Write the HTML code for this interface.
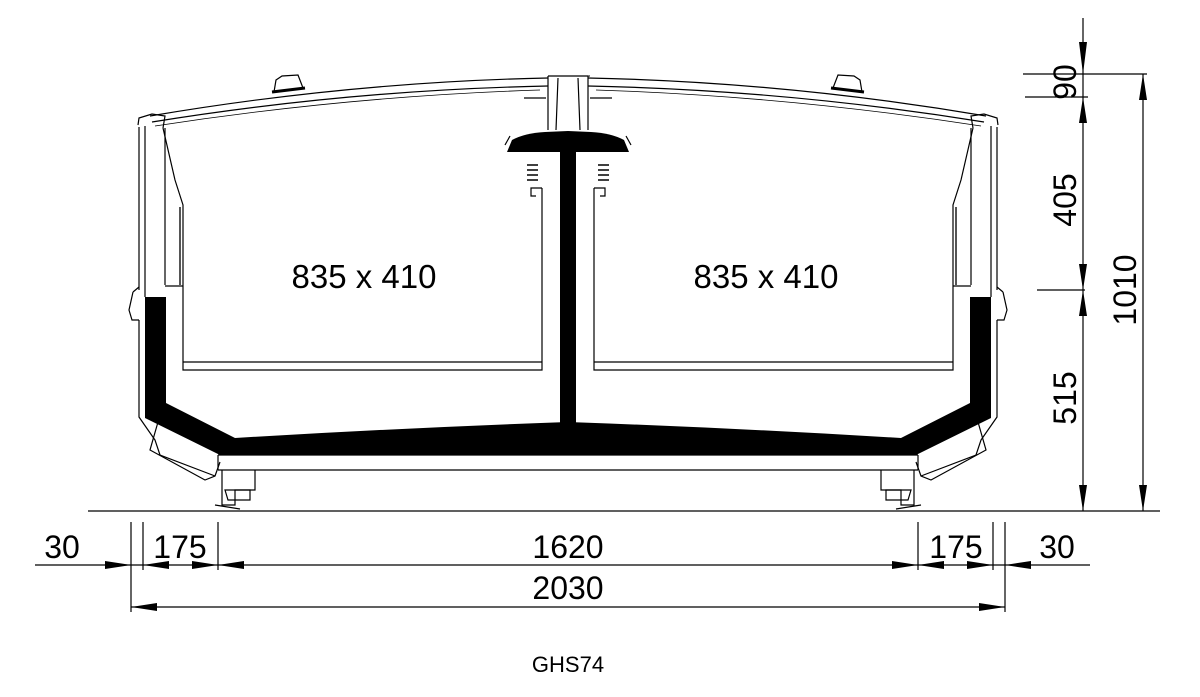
<!DOCTYPE html>
<html><head><meta charset="utf-8"><style>
html,body{margin:0;padding:0;background:#fff;}
svg{display:block;}
text{font-family:"Liberation Sans",Arial,sans-serif;fill:#000;}
</style></head><body>
<svg width="1200" height="697" viewBox="0 0 1200 697" xmlns="http://www.w3.org/2000/svg">
<defs>
<g id="half" fill="none" stroke="#000" stroke-width="1.2">
  <path d="M150 116 Q350 82 548 78" />
  <path d="M152 122 Q350 90 548 86" />
  <path d="M155 126 Q350 96 540 90" stroke-width="0.8"/>
  <path d="M274 92 L276 80 L282 76 L298 75 L303 88" />
  <path d="M272 92 L305 88" stroke-width="3"/>
  <path d="M138 125 L139 118 L152 114 L165 116 L163 128" />
  <path d="M139 127 L139 290 M139 320 L139 417 L155 440 L160 455 L215 476" />
  <path d="M133 292 L139 287 M139 320 L132 320 L129 310 L133 292" />
  <path d="M145 126 L145 297 M165 128 L165 285" />
  <path d="M163 128 Q168 150 175 180 L183 205 L183 286" />
  <path d="M180 207 L180 285" stroke-width="2" stroke="#555"/>
  <path d="M165 286 L183 286" />
  <path d="M183 286 L183 370 L542 370 L542 188" />
  <path d="M183 362 L542 362" />
  <path d="M542 188 L531 188 L531 196 L536 196" />
  <path d="M527 165 L538 165 M527 170 L538 170 M527 175 L538 175 M527 180 L538 180" stroke-width="1.5"/>
  <path d="M160 415 L150 450 L205 480 L215 476 L220 462" />
  <path d="M218 455 L568 455 M218 470 L568 470 M218 455 L218 470" />
  <path d="M222 470 L222 505 L235 505 L235 490 L255 490 L255 470" />
  <path d="M225 490 L250 490 L250 500 L228 500 Z" />
  <path d="M215 505 L240 509" />
  <path d="M548 76 L548 130 M558 78 L556 130 M568 76 L548 76 M524 98 L546 98" />
  <path d="M510 136 L505 145" />
</g>
<g id="blk" fill="#000" stroke="none">
  <path d="M145 297 L166 297 L166 403 L235 438 Q400 428 568 422 L568 455 L220 455 L145 418 Z"/>
  <path d="M560 152 L568 152 L568 425 L560 425 Z"/>
  <path d="M507 152 L512 140 Q525 133 545 132 L568 131 L568 152 Z"/>
</g>
</defs>
<use href="#half"/>
<use href="#half" transform="translate(1136,0) scale(-1,1)"/>
<use href="#blk"/>
<use href="#blk" transform="translate(1136,0) scale(-1,1)"/>
<path d="M548 76 L590 76" stroke="#000" fill="none"/>
<text x="364" y="288" font-size="33" text-anchor="middle">835 x 410</text>
<text x="766" y="288" font-size="33" text-anchor="middle">835 x 410</text>

<g stroke="#000" stroke-width="1.2" fill="none">
  <path d="M88 511 L1160 511"/>
  <path d="M1083 18 L1083 511 M1143 74 L1143 511"/>
  <path d="M1023 74 L1147 74 M1025 97 L1088 97 M1037 290 L1085 290"/>
  <path d="M35 565 L1090 565 M131 607 L1005 607"/>
  <path d="M131 522 L131 612 M143 522 L143 570 M218 522 L218 570 M918 522 L918 570 M993 522 L993 570 M1005 522 L1005 612"/>
</g>
<g fill="#000">
  <path d="M1079 42 L1087 42 L1083 74 Z"/>
  <path d="M1079 123 L1087 123 L1083 97 Z"/>
  <path d="M1079 264 L1087 264 L1083 290 Z"/>
  <path d="M1079 316 L1087 316 L1083 290 Z"/>
  <path d="M1079 485 L1087 485 L1083 511 Z"/>
  <path d="M1139 100 L1147 100 L1143 74 Z"/>
  <path d="M1139 485 L1147 485 L1143 511 Z"/>
  <path d="M105 561 L105 569 L131 565 Z"/>
  <path d="M169 561 L169 569 L143 565 Z"/>
  <path d="M192 561 L192 569 L218 565 Z"/>
  <path d="M244 561 L244 569 L218 565 Z"/>
  <path d="M892 561 L892 569 L918 565 Z"/>
  <path d="M944 561 L944 569 L918 565 Z"/>
  <path d="M967 561 L967 569 L993 565 Z"/>
  <path d="M1031 561 L1031 569 L1005 565 Z"/>
  <path d="M157 603 L157 611 L131 607 Z"/>
  <path d="M979 603 L979 611 L1005 607 Z"/>
</g>
<g font-size="32">
  <text x="62" y="558" text-anchor="middle">30</text>
  <text x="180" y="558" text-anchor="middle">175</text>
  <text x="568" y="558" text-anchor="middle">1620</text>
  <text x="956" y="558" text-anchor="middle">175</text>
  <text x="1057" y="558" text-anchor="middle">30</text>
  <text x="568" y="599" text-anchor="middle">2030</text>
  <text transform="translate(1076,82) rotate(-90)" text-anchor="middle">90</text>
  <text transform="translate(1076,200) rotate(-90)" text-anchor="middle">405</text>
  <text transform="translate(1076,398) rotate(-90)" text-anchor="middle">515</text>
  <text transform="translate(1136,290) rotate(-90)" text-anchor="middle">1010</text>
</g>
<text x="568" y="672" font-size="22" text-anchor="middle">GHS74</text>
</svg>
</body></html>
